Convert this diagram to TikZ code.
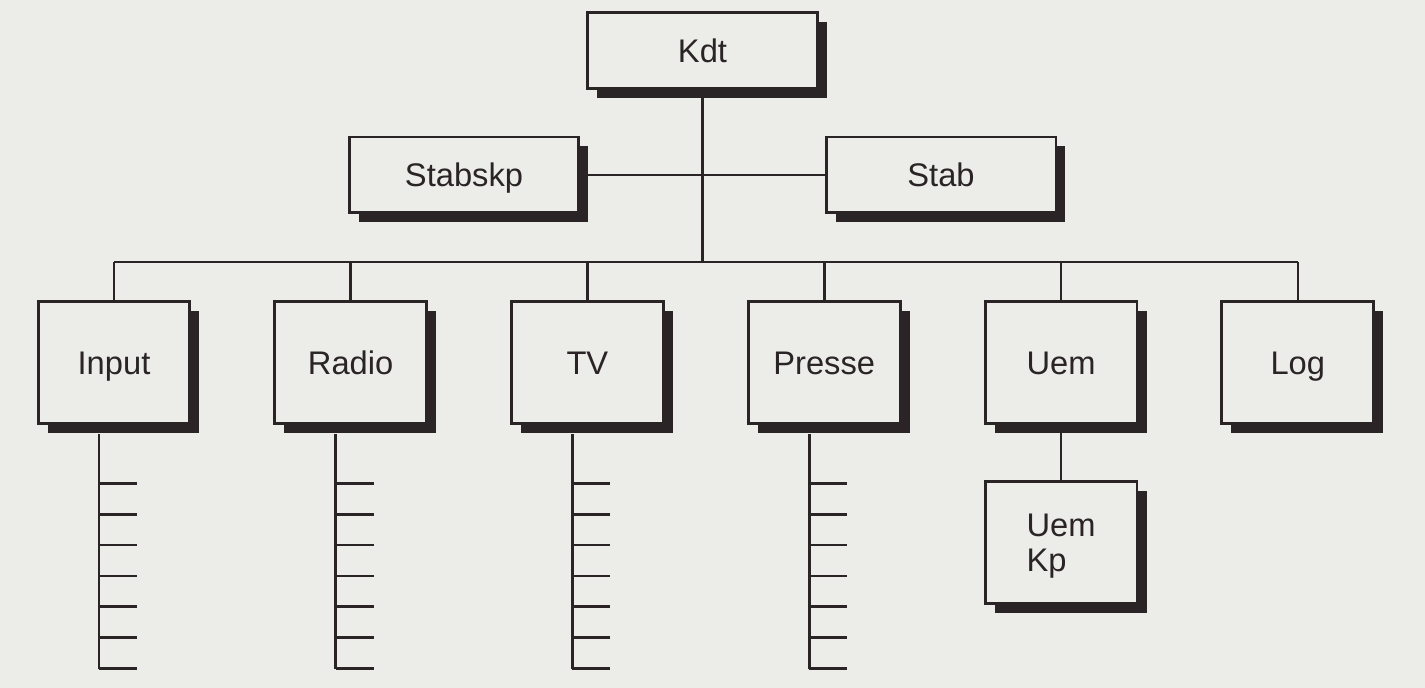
\documentclass[tikz,border=0pt]{standalone}
\usepackage{fontspec}
\setmainfont{Liberation Sans}
\usetikzlibrary{positioning,shadows}
\definecolor{paper}{RGB}{236,236,232}
\definecolor{ink}{RGB}{42,36,38}

\begin{document}
\begin{tikzpicture}[x=0.02cm,y=-0.02cm,
  frame/.style={draw=ink,line width=1.7pt,fill=paper,text=ink,
    font=\fontsize{18.6}{20}\selectfont,
    drop shadow={shadow xshift=0.19cm,shadow yshift=-0.19cm,fill=ink,opacity=1}},
  unit/.style={frame,text height=13.3pt,text depth=0pt},
  wide/.style={unit,minimum width=4.6cm,minimum height=1.52cm},
  cell/.style={unit,minimum width=3.04cm,minimum height=2.44cm},
  link/.style={draw=ink,line width=1.5pt}]
\fill[paper] (0,0) rectangle (1425,688);
\useasboundingbox (0,0) rectangle (1425,688);

% top of the chart
\node[wide] (kdt) at (702.5,50.5) {Kdt};
\node[wide] (stabskp) at (464,175) {Stabskp};
\node[wide] (stab) at (941,175) {Stab};
\coordinate (hub) at (702.5,262);

% sections
\node[cell] (input) at (114,362.5) {Input};
\node[cell] (radio) at (350.6,362.5) {Radio};
\node[cell] (tv) at (587.4,362.5) {TV};
\node[cell] (presse) at (824.2,362.5) {Presse};
\node[cell] (uem) at (1061,362.5) {Uem};
\node[cell] (log) at (1297.8,362.5) {Log};
\node[frame,minimum width=3.04cm,minimum height=2.44cm,align=left,text depth=0pt]
  (uemkp) at (1061,542.5) {Uem\\Kp};

\draw[link] (kdt.south) -- (hub);
\draw[link] (stabskp.east) -- (stab.west);
\draw[link] (input.north |- hub) -- (log.north |- hub);
\foreach \n in {input,radio,tv,presse,uem,log}
  \draw[link] (\n.north) -- (\n.north |- hub);
\draw[link] (uem.south) -- (uemkp.north);

% sub-units
\foreach \n in {input,radio,tv,presse} {
  \draw[link] ([xshift=-0.3cm,yshift=-0.19cm]\n.south) -- ++(0,235);
  \foreach \k in {0,...,6}
    \draw[link] (\n.south) ++(-15,58.5+30.8*\k) -- ++(38,0);
}
\end{tikzpicture}
\end{document}
